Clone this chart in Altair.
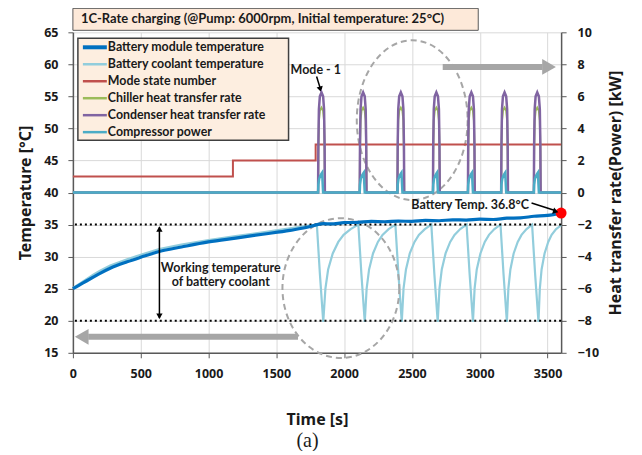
import altair as alt
import pandas as pd

# ---------------- values ----------------
module_time = [0, 50, 100, 150, 200, 275, 400, 500, 636, 800, 1000, 1200, 1400, 1600, 1750, 1800,
               1850, 1900, 2000, 2100, 2200, 2300, 2400, 2500, 2600, 2700, 2800, 2900, 3000, 3100,
               3200, 3300, 3400, 3500, 3600]
module_temp = [25.0, 25.6, 26.2, 26.8, 27.4, 28.2, 29.2, 29.9, 30.8, 31.5, 32.3, 32.9, 33.5, 34.1, 34.7, 35.0,
               35.15, 35.1, 35.3, 35.35, 35.5, 35.45, 35.55, 35.5, 35.65, 35.6, 35.75, 35.7, 35.85, 35.8,
               36.0, 36.05, 36.3, 36.45, 36.8]

coolant_time = [0, 50, 100, 150, 200, 275, 400, 500, 636, 800, 1000, 1200, 1400, 1600, 1750, 1799,
                1821, 1846, 1862, 1882, 1916, 1957, 1996, 2048, 2105,
                2127, 2152, 2166, 2184, 2213, 2249, 2283, 2328, 2378,
                2400, 2425, 2438, 2456, 2484, 2519, 2551, 2595, 2643,
                2665, 2690, 2703, 2720, 2748, 2782, 2814, 2856, 2903,
                2925, 2950, 2962, 2978, 3005, 3037, 3068, 3108, 3153,
                3175, 3200, 3211, 3226, 3250, 3280, 3308, 3345, 3386,
                3408, 3433, 3443, 3456, 3478, 3505, 3530, 3563, 3600]
coolant_temp = [25.1, 25.8, 26.5, 27.2, 27.8, 28.6, 29.6, 30.3, 31.2, 31.9, 32.6, 33.2, 33.8, 34.4, 34.9, 35.0,
                27.4, 19.8, 25.0, 28.0, 30.5, 32.3, 33.4, 34.3, 35.0,
                27.4, 19.8, 25.0, 28.0, 30.5, 32.3, 33.4, 34.3, 35.0,
                27.4, 19.8, 25.0, 28.0, 30.5, 32.3, 33.4, 34.3, 35.0,
                27.4, 19.8, 25.0, 28.0, 30.5, 32.3, 33.4, 34.3, 35.0,
                27.4, 19.8, 25.0, 28.0, 30.5, 32.3, 33.4, 34.3, 35.0,
                27.4, 19.8, 25.0, 28.0, 30.5, 32.3, 33.4, 34.3, 35.0,
                27.4, 19.8, 25.0, 28.0, 30.5, 32.3, 33.4, 34.3, 34.9]

mode_time = [0, 1180, 1790, 3600]
mode_value = [1, 2, 3, 3]

pulse_start = [1808, 2115, 2393, 2655, 2913, 3158, 3399]
pulse_offset = [0, 2, 6, 13, 25, 37, 44, 48, 50]
condenser_shape = [0, 3.0, 5.2, 6.0, 6.25, 6.0, 5.2, 3.0, 0]
chiller_shape = [0, 2.6, 4.5, 5.1, 5.3, 5.1, 4.5, 2.6, 0]
compressor_offset = [0, 2, 8, 16, 26, 30, 34, 37]
compressor_shape = [0, 0.5, 0.85, 1.05, 1.2, 1.25, 0.5, 0]
end_time = 3600

working_limits = [35, 20]
final_point_time = [3600]
final_point_temp = [36.8]

legend_labels = ["Battery module temperature", "Battery coolant temperature", "Mode state number",
                 "Chiller heat transfer rate", "Condenser heat transfer rate", "Compressor power"]
legend_colors = ["#0070c0", "#92cddc", "#c0504d", "#9bbb59", "#8064a2", "#4bacc6"]
legend_widths = [4, 2.5, 2.5, 2.5, 2.5, 2.5]

title_text = "1C-Rate charging (@Pump: 6000rpm, Initial temperature: 25°C)"

# ---------------- tables ----------------
module_df = pd.DataFrame({"t": module_time, "T": module_temp})
coolant_df = pd.DataFrame({"t": coolant_time, "T": coolant_temp})
mode_df = pd.DataFrame({"t": mode_time, "v": mode_value})


def pulse_series(offsets, shape):
    t, v = [0], [0]
    for s in pulse_start:
        for o, val in zip(offsets, shape):
            t.append(s + o)
            v.append(val)
    t.append(end_time)
    v.append(0)
    return pd.DataFrame({"t": t, "v": v})


condenser_df = pulse_series(pulse_offset, condenser_shape)
chiller_df = pulse_series(pulse_offset, chiller_shape)
compressor_df = pulse_series(compressor_offset, compressor_shape)

FONT = "Noto Sans"
LFONT = "Lato"
TXT = "#1a1a1a"
GRAY = "#a6a6a6"

xs = alt.Scale(domain=[0, 3600], nice=False, zero=False)
yT = alt.Scale(domain=[15, 65], nice=False, zero=False)
yK = alt.Scale(domain=[-10, 10], nice=False, zero=False)

x_axis = alt.Axis(values=list(range(0, 3501, 500)), format="d", title="Time [s]", grid=True,
                  gridColor="#d9d9d9", tickSize=5, labelPadding=10, titlePadding=31, labelFlush=False)
yT_axis = alt.Axis(orient="left", values=list(range(15, 66, 5)), format="d", title="Temperature  [°C]",
                   grid=True, gridColor="#d9d9d9", tickSize=5, labelPadding=10, titlePadding=10)
yK_axis = alt.Axis(orient="right", values=list(range(-10, 11, 2)), format="d",
                   title="Heat transfer rate(Power)  [kW]", grid=False, tickSize=5, labelPadding=11,
                   titlePadding=9, titleAngle=270, titleBaseline="top")

X = lambda f="t": alt.X(f"{f}:Q", scale=xs, axis=x_axis)
YT = lambda f="T": alt.Y(f"{f}:Q", scale=yT, axis=yT_axis)
YK = lambda f="v": alt.Y(f"{f}:Q", scale=yK, axis=yK_axis)

# working temperature limits (dotted)
limits = alt.Chart(pd.DataFrame({"T": working_limits})).mark_rule(
    color="black", strokeDash=[2, 3], strokeWidth=2).encode(y=YT())


def ellipse_path(a):
    k = 0.5523
    return (f"M{a},0 C{a},{k} {k*a},1 0,1 C{-k*a},1 {-a},{k} {-a},0 "
            f"C{-a},{-k} {-k*a},-1 0,-1 C{k*a},-1 {a},{-k} {a},0 Z")


ell1 = alt.Chart(pd.DataFrame({"t": [1976], "T": [25.1]})).mark_point(
    shape=ellipse_path(0.836), size=19600, filled=False, stroke=GRAY, strokeWidth=2,
    strokeDash=[6, 4], opacity=1).encode(x=X(), y=YT())
ell2 = alt.Chart(pd.DataFrame({"t": [2502], "T": [51.3]})).mark_point(
    shape=ellipse_path(0.694), size=25600, filled=False, stroke=GRAY, strokeWidth=2,
    strokeDash=[6, 4], opacity=1).encode(x=X(), y=YT())

# gray arrows
shafts = alt.Chart(pd.DataFrame({"t": [113, 2727], "t2": [1660, 3463], "T": [17.5, 59.6]})).mark_rule(
    color=GRAY, strokeWidth=6).encode(x=X(), x2="t2:Q", y=YT())
head_l = alt.Chart(pd.DataFrame({"t": [65], "T": [17.5]})).mark_point(
    shape="triangle-left", size=250, filled=True, color=GRAY, opacity=1).encode(x=X(), y=YT())
head_r = alt.Chart(pd.DataFrame({"t": [3511], "T": [59.6]})).mark_point(
    shape="triangle-right", size=250, filled=True, color=GRAY, opacity=1).encode(x=X(), y=YT())

# black annotation arrows
black_lines = alt.Chart(pd.DataFrame({
    "t": [638, 1797, 3382], "t2": [638, 1822, 3555], "T": [34.6, 58.1, 38.36], "T2": [20.4, 56.4, 37.2]
})).mark_rule(color="black", strokeWidth=1.5).encode(x=X(), x2="t2:Q", y=YT(), y2="T2:Q")
black_heads = alt.Chart(pd.DataFrame({
    "t": [638, 638, 1825, 3560], "T": [34.3, 20.7, 56.1, 37.05],
    "shape": ["triangle-up", "triangle-down", "triangle-down", "triangle-right"],
    "ang": [0, 0, 344, 18]
})).mark_point(filled=True, color="black", size=40, opacity=1).encode(
    x=X(), y=YT(), shape=alt.Shape("shape:N", scale=None), angle=alt.Angle("ang:Q", scale=None))

ann_text = alt.Chart(pd.DataFrame({
    "t": [1791, 2929, 1090, 1090], "T": [59.1, 38.05, 28.3, 26.0],
    "txt": ["Mode - 1", "Battery Temp. 36.8°C", "Working  temperature", "of battery coolant"]
})).mark_text(font=LFONT, fontWeight="bold", fontSize=12.5, color=TXT, align="center",
              baseline="middle").encode(x=X(), y=YT(), text="txt:N")

coolant = alt.Chart(coolant_df).mark_line(color="#92cddc", strokeWidth=2.2).encode(x=X(), y=YT())
module = alt.Chart(module_df).mark_line(color="#0070c0", strokeWidth=3.2, interpolate="monotone").encode(
    x=X(), y=YT())
dot = alt.Chart(pd.DataFrame({"t": final_point_time, "T": final_point_temp})).mark_point(
    filled=True, color="#ff0000", size=120, opacity=1).encode(x=X(), y=YT())

# legend box
leg_df = pd.DataFrame({"label": legend_labels, "c": legend_colors, "w": legend_widths,
                       "ly": [15 + 17 * i for i in range(len(legend_labels))]})
leg_box = alt.Chart(pd.DataFrame({"a": [0]})).mark_rect(
    fill="#fdeee0", stroke="#404040", strokeWidth=1.5).encode(
    x=alt.value(5), x2=alt.value(216), y=alt.value(6), y2=alt.value(108))
leg_lines = alt.Chart(leg_df).mark_rule().encode(
    x=alt.value(10), x2=alt.value(34), y=alt.Y("ly:Q", scale=None),
    color=alt.Color("c:N", scale=None), strokeWidth=alt.StrokeWidth("w:Q", scale=None))
leg_text = alt.Chart(leg_df).mark_text(font=LFONT, fontWeight="bold", fontSize=12.4, color=TXT,
                                       align="left", baseline="middle").encode(
    x=alt.value(35), y=alt.Y("ly:Q", scale=None), text="label:N")

# title box
title_box = alt.Chart(pd.DataFrame({"a": [0]})).mark_rect(
    fill="#fde9d9", stroke="#595959", strokeWidth=1).encode(
    x=alt.value(0), x2=alt.value(406), y=alt.value(-24), y2=alt.value(-2))
title_txt = alt.Chart(pd.DataFrame({"txt": [title_text]})).mark_text(
    font=LFONT, fontWeight="bold", fontSize=13, color=TXT, align="left", baseline="middle").encode(
    x=alt.value(8), y=alt.value(-13), text="txt:N")
sub_txt = alt.Chart(pd.DataFrame({"txt": ["(a)"]})).mark_text(
    font="Liberation Serif", fontSize=20, color=TXT, align="center", baseline="middle").encode(
    x=alt.value(235), y=alt.value(409), text="txt:N")

temp_layer = alt.layer(coolant, limits, ell1, ell2, shafts, head_l, head_r, module, dot,
                       black_lines, black_heads, ann_text, leg_box, leg_lines, leg_text,
                       title_box, title_txt, sub_txt)

mode = alt.Chart(mode_df).mark_line(color="#c0504d", strokeWidth=2, interpolate="step-after").encode(
    x=X(), y=YK())
chiller = alt.Chart(chiller_df).mark_line(color="#9bbb59", strokeWidth=2).encode(x=X(), y=YK())
condenser = alt.Chart(condenser_df).mark_line(color="#8064a2", strokeWidth=2.5).encode(x=X(), y=YK())
compressor = alt.Chart(compressor_df).mark_line(color="#4bacc6", strokeWidth=2.5).encode(x=X(), y=YK())

kw_layer = alt.layer(mode, chiller, condenser, compressor)

chart = alt.layer(temp_layer, kw_layer).resolve_scale(y="independent").properties(
    width=489, height=321,
    autosize=alt.AutoSizeParams(type="none"),
    padding={"left": 65, "top": 24, "right": 73, "bottom": 98},
).configure_view(stroke=None).configure_axis(
    labelFont=FONT, labelFontWeight="bold", labelFontSize=12.5, labelColor=TXT,
    titleFont=FONT, titleFontWeight="bold", titleFontSize=16, titleColor=TXT,
    domainColor="#595959", domainWidth=1.5, tickColor="#595959",
)

chart.save("out.html", embed_options={"renderer": "svg", "actions": False})
